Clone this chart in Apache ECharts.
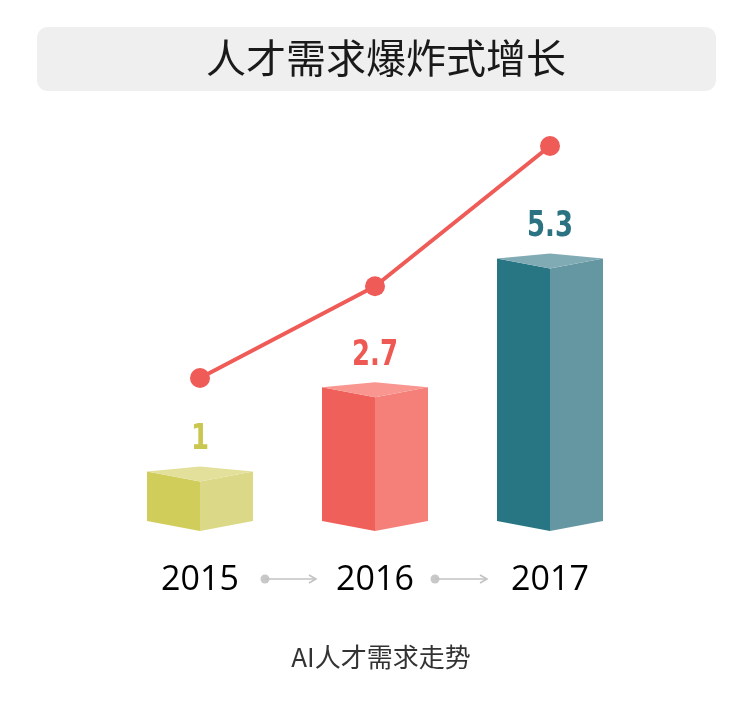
<!DOCTYPE html>
<html>
<head>
<meta charset="utf-8">
<script src="https://cdn.jsdelivr.net/npm/echarts@6/dist/echarts.min.js"></script>
<style>
html,body{margin:0;padding:0;background:#fff;}
#chart{width:730px;height:720px;}
</style>
</head>
<body>
<div id="chart"></div>
<script>
// ---- data ----
var years = ['2015', '2016', '2017'];
var demand = [1, 2.7, 5.3];
var titleText = '人才需求爆炸式增长';
var captionText = 'AI人才需求走势';

// ---- styles ----
var faceColors = [
  ['#d1cd5b', '#dbd987', '#e3e09c'],
  ['#f0605a', '#f57f79', '#f8968f'],
  ['#287684', '#6597a2', '#80abb5']
];
var labelColors = ['#c9c74f', '#ee5a53', '#2b7282'];
var lineColor = '#ef5b57';

var chart = echarts.init(document.getElementById('chart'), null, {renderer: 'canvas'});

function render3DBar(params, api) {
  var xv = api.value(0), v = api.value(1);
  var top = api.coord([xv, v]);
  var base = api.coord([xv, 0]);
  var hw = 53, d = 10, b = 5;
  var x = top[0], yt = top[1], yb = base[1];
  var c = faceColors[params.dataIndex];
  return {
    type: 'group',
    children: [
      {type: 'polygon', shape: {points: [[x - hw, yt], [x, yt + d], [x, yb + d], [x - hw, yb]]}, style: {fill: c[0]}},
      {type: 'polygon', shape: {points: [[x, yt + d], [x + hw, yt], [x + hw, yb], [x, yb + d]]}, style: {fill: c[1]}},
      {type: 'polygon', shape: {points: [[x - hw, yt], [x, yt - b], [x + hw, yt], [x, yt + d]]}, style: {fill: c[2]}},
      {type: 'text', x: x, y: yt - 14, scaleX: 0.72, style: {
        text: String(v), align: 'center', verticalAlign: 'bottom',
        fontFamily: '"DejaVu Sans", sans-serif',
        fontWeight: 'bold', fontSize: 36, fill: labelColors[params.dataIndex]
      }}
    ]
  };
}

var option = {
  backgroundColor: '#ffffff',
  animation: false,
  grid: {left: 112.5, right: 92.5, top: 100, bottom: 199},
  xAxis: {
    type: 'category', data: years, boundaryGap: true,
    axisLine: {show: false}, axisTick: {show: false},
    axisLabel: {margin: 42, fontSize: 34, color: '#000', fontFamily: '"Open Sans", sans-serif'}
  },
  yAxis: [
    {type: 'value', min: 0, max: 8.5, show: false, splitLine: {show: false}},
    {type: 'value', min: -1.65, max: 6.153, show: false, splitLine: {show: false}}
  ],
  series: [
    {
      type: 'custom', yAxisIndex: 0,
      data: demand.map(function (v, i) { return [i, v]; }),
      renderItem: render3DBar, z: 2
    },
    {
      type: 'line', yAxisIndex: 1, data: demand, z: 3,
      symbol: 'circle', symbolSize: 20,
      lineStyle: {color: lineColor, width: 4},
      itemStyle: {color: lineColor}
    }
  ],
  graphic: [
    {type: 'rect', shape: {x: 37, y: 27, width: 679, height: 64, r: 11}, style: {fill: '#efefef'}, z: 0},
    {type: 'text', x: 386, y: 58, style: {text: titleText, align: 'center', verticalAlign: 'middle',
      fontSize: 40, fill: '#1a1a1a', fontFamily: '"Noto Sans CJK SC", sans-serif'}},
    {type: 'circle', shape: {cx: 265, cy: 579, r: 4.5}, style: {fill: '#c8c8c8'}},
    {type: 'line', shape: {x1: 265, y1: 579, x2: 316, y2: 579}, style: {stroke: '#c2c2c2', lineWidth: 1.5}},
    {type: 'polyline', shape: {points: [[309, 575], [316, 579], [309, 583]]}, style: {stroke: '#c2c2c2', lineWidth: 1.5, fill: null}},
    {type: 'circle', shape: {cx: 435, cy: 579, r: 4.5}, style: {fill: '#c8c8c8'}},
    {type: 'line', shape: {x1: 435, y1: 579, x2: 487, y2: 579}, style: {stroke: '#c2c2c2', lineWidth: 1.5}},
    {type: 'polyline', shape: {points: [[480, 575], [487, 579], [480, 583]]}, style: {stroke: '#c2c2c2', lineWidth: 1.5, fill: null}},
    {type: 'text', x: 381, y: 657, style: {text: captionText, align: 'center', verticalAlign: 'middle',
      fontSize: 26, fill: '#333', fontFamily: '"Noto Sans CJK SC", sans-serif'}}
  ]
};
chart.setOption(option);
</script>
</body>
</html>
